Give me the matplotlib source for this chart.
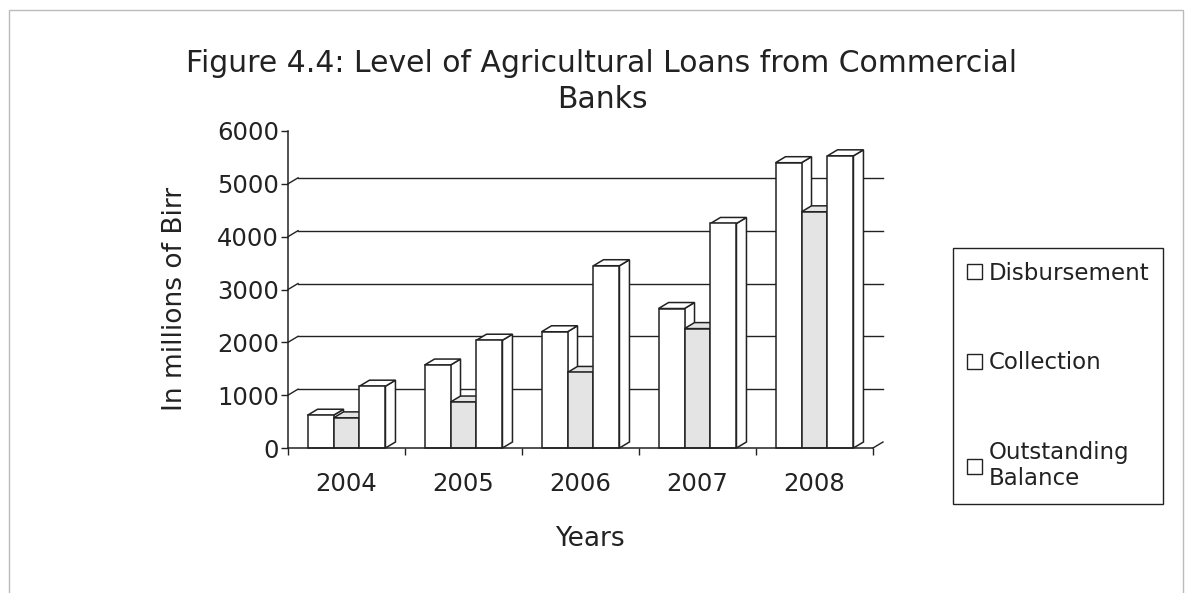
import numpy as np
import matplotlib.pyplot as plt
from matplotlib.patches import Polygon, Rectangle, Patch

# the scan is stretched sideways, so the wider DejaVu Sans fits it best
plt.rcParams['font.family'] = ['DejaVu Sans']

years = ["2004", "2005", "2006", "2007", "2008"]
series = ["Disbursement", "Collection", "Outstanding\nBalance"]
disbursement = [620, 1570, 2200, 2640, 5400]
collection = [570, 870, 1430, 2260, 4470]
outstanding = [1170, 2040, 3450, 4250, 5530]
yticks = [0, 1000, 2000, 3000, 4000, 5000, 6000]

values = [disbursement, collection, outstanding]
faces = ["white", "#e4e4e4", "white"]
ink = "#222222"

fig = plt.figure(figsize=(11.87, 5.93), dpi=100)
ax = fig.add_axes([288/1187, 1-448/593, 585/1187, 317/593])
ax.set_xlim(-0.5, 4.5)
ax.set_ylim(0, 6000)
ax.patch.set_visible(False)

# depth of the fake 3d effect, in data units (~10px right, ~6px up)
dx = 10 * 5 / 585
dy = 6 * 6000 / 317

# back wall gridlines + little diagonals from the axis
for v in yticks[1:-1]:
    ax.plot([-0.5 + dx, 4.5 + dx], [v + dy, v + dy], color=ink, lw=1, zorder=1, clip_on=False)
for v in yticks[1:-1]:
    ax.plot([-0.5, -0.5 + dx], [v, v + dy], color=ink, lw=1, zorder=1, clip_on=False)
ax.plot([4.5, 4.5 + dx], [0, dy], color=ink, lw=1, zorder=1, clip_on=False)

w = 0.222
x = np.arange(len(years))
for i in range(len(years)):
    for j, vals in enumerate(values):
        x0 = x[i] - 1.5 * w + j * w
        h = vals[i]
        z = 3 + i * 3 + j
        side = Polygon([(x0 + w, 0), (x0 + w + dx, dy), (x0 + w + dx, h + dy), (x0 + w, h)],
                       closed=True, facecolor=faces[j], edgecolor=ink, lw=1.1, zorder=z)
        top = Polygon([(x0, h), (x0 + dx, h + dy), (x0 + w + dx, h + dy), (x0 + w, h)],
                      closed=True, facecolor=faces[j], edgecolor=ink, lw=1.1, zorder=z)
        front = Rectangle((x0, 0), w, h, facecolor=faces[j], edgecolor=ink, lw=1.1, zorder=z)
        for p in (side, top, front):
            p.set_clip_on(False)
            ax.add_patch(p)

for s in ["top", "right"]:
    ax.spines[s].set_visible(False)
for s in ["left", "bottom"]:
    ax.spines[s].set_color(ink)
    ax.spines[s].set_linewidth(1.1)
    ax.spines[s].set_zorder(30)

ax.set_yticks(yticks)
ax.set_yticklabels([str(v) for v in yticks], fontsize=17.5, color=ink)
ax.tick_params(axis="y", length=5, width=1, color=ink, pad=1.5)
ax.set_xticks(x)
ax.set_xticklabels(years, fontsize=17.5, color=ink)
ax.set_xticks(np.arange(-0.5, 5, 1), minor=True)
ax.tick_params(axis="x", which="major", length=0, pad=17)
ax.tick_params(axis="x", which="minor", length=5, width=1, color=ink)

ax.set_xlabel("Years", fontsize=19, color=ink, labelpad=22)
ax.set_ylabel("In millions of Birr", fontsize=19, color=ink, labelpad=21)
ax.xaxis.label.set_x((590 - 288) / 585)
ax.yaxis.label.set_y((448 - 299) / 317)

fig.text(602/1187, 1-64/593, "Figure 4.4: Level of Agricultural Loans from Commercial",
         ha="center", va="center", fontsize=21.5, color=ink)
fig.text(602/1187, 1-99/593, "Banks", ha="center", va="center", fontsize=21.5, color=ink)

handles = [Patch(facecolor="white", edgecolor=ink, lw=1) for _ in series]
leg = fig.legend(handles, series, loc="upper left",
                 bbox_to_anchor=(953/1187, 1-248/593), borderaxespad=0,
                 fontsize=16.5, handlelength=0.65, handleheight=0.65, handletextpad=0.3,
                 labelspacing=2.9, borderpad=0.6, fancybox=False, framealpha=1)
leg.get_frame().set_edgecolor(ink)
leg.get_frame().set_linewidth(1)
for t in leg.get_texts():
    t.set_color(ink)

# faint page border of the scan
fig.add_artist(Rectangle((9/1187, -0.1), 1174/1187, 1.1 - 10/593, transform=fig.transFigure,
                         fill=False, edgecolor="#bbbbbb", lw=1))

fig.savefig("out.png", dpi=100)
